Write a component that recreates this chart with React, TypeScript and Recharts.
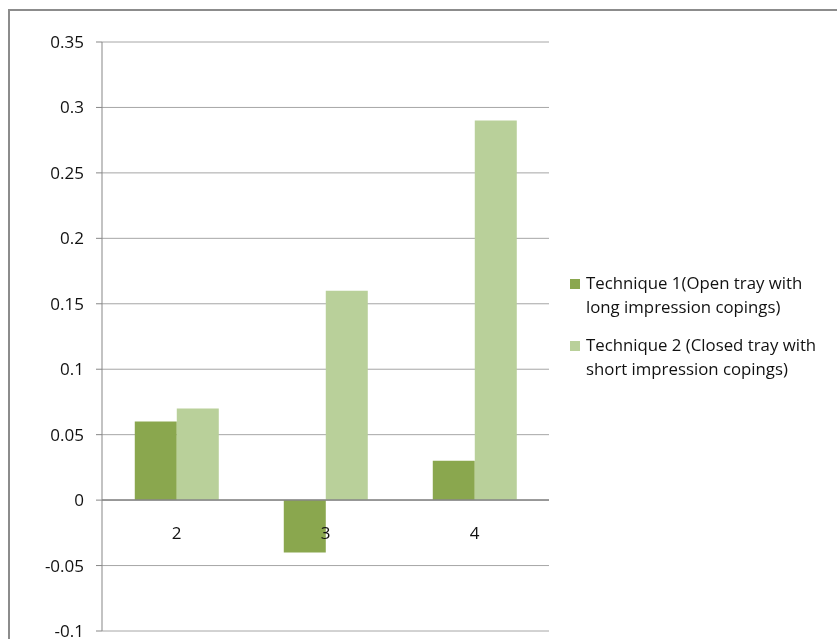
import React from "react";
import { BarChart, Bar, XAxis, YAxis, CartesianGrid, ReferenceLine } from "recharts";

// values
const categories = ["2", "3", "4"];
const technique1 = [0.06, -0.04, 0.03];
const technique2 = [0.07, 0.16, 0.29];
const yTicks = [-0.1, -0.05, 0, 0.05, 0.1, 0.15, 0.2, 0.25, 0.3, 0.35];
const seriesNames = [
  ["Technique 1(Open tray with", "long impression copings)"],
  ["Technique 2 (Closed tray with", "short impression copings)"],
];

const DARK = "#8AA74E";
const LIGHT = "#B9D09A";
const AXIS = "#878787";
const FONT = "'Open Sans', sans-serif";

const Y_MIN = -0.1;
const Y_MAX = 0.35;
const CHART_W = 560;
const CHART_H = 631;
const MARGIN = { top: 34, right: 19, bottom: 7, left: 0 };
const X_H = 1;
const PLOT_H = CHART_H - MARGIN.top - MARGIN.bottom - X_H;

const data = categories.map((name, i) => ({
  name,
  t1: technique1[i],
  t2: technique2[i],
}));

// category labels sit under the zero line, like Excel does
function CategoryTick(props: any) {
  const { x, y, payload } = props;
  const lift = (PLOT_H * (0 - Y_MIN)) / (Y_MAX - Y_MIN);
  return (
    <text
      x={x}
      y={y - lift + 31}
      textAnchor="middle"
      fill="#111"
      fontSize={17}
      fontFamily={FONT}
    >
      {payload.value}
    </text>
  );
}

function Legend() {
  const colors = [DARK, LIGHT];
  return (
    <div
      style={{
        position: "absolute",
        left: 562,
        top: 263,
        fontFamily: FONT,
        fontSize: 16.8,
        color: "#111",
        lineHeight: "24px",
      }}
    >
      {seriesNames.map((lines, i) => (
        <div key={i} style={{ position: "relative", paddingLeft: 16, marginBottom: 14 }}>
          <span
            style={{
              position: "absolute",
              left: 0,
              top: 8,
              width: 10,
              height: 10,
              background: colors[i],
            }}
          />
          {lines.map((l, j) => (
            <div key={j} style={{ whiteSpace: "nowrap" }}>
              {l}
            </div>
          ))}
        </div>
      ))}
    </div>
  );
}

export default function App() {
  return (
    <div
      style={{
        position: "fixed",
        left: 8,
        top: 8,
        width: 829,
        height: 631,
        overflow: "hidden",
      }}
    >
      <div
        style={{
          position: "absolute",
          left: 0,
          top: 1,
          width: 900,
          height: 700,
          border: "2px solid #8c8c8c",
          boxSizing: "border-box",
        }}
      />
      <div style={{ position: "absolute", left: 0, top: 0 }}>
        <BarChart
          width={CHART_W}
          height={CHART_H}
          data={data}
          margin={MARGIN}
          barCategoryGap="22%"
          barGap={0}
        >
          <CartesianGrid vertical={false} stroke="#a6a6a6" />
          <XAxis
            dataKey="name"
            axisLine={false}
            tickLine={false}
            height={X_H}
            tick={<CategoryTick />}
            interval={0}
          />
          <YAxis
            width={94}
            domain={[Y_MIN, Y_MAX]}
            ticks={yTicks}
            interval={0}
            allowDataOverflow
            stroke={AXIS}
            tickSize={6}
            tickMargin={12}
            tick={{ fill: "#111", fontSize: 17, fontFamily: FONT }}
            tickFormatter={(v: number) => String(Math.round(v * 100) / 100)}
          />
          <Bar dataKey="t1" fill={DARK} isAnimationActive={false} />
          <Bar dataKey="t2" fill={LIGHT} isAnimationActive={false} />
          <ReferenceLine y={0} stroke={AXIS} strokeWidth={1.5} />
        </BarChart>
      </div>
      <Legend />
    </div>
  );
}
